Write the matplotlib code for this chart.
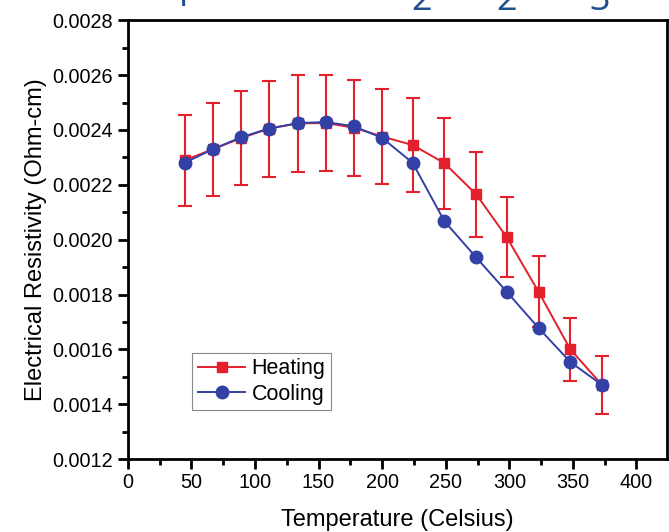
import numpy as np
import matplotlib.pyplot as plt
from matplotlib.ticker import MultipleLocator, FormatStrFormatter

plt.rcParams['font.family'] = ['Liberation Sans', 'DejaVu Sans']

# temperatures (Celsius)
temp = [45, 67, 89, 111, 134, 156, 178, 200, 224, 249, 274, 298, 323, 348, 373]

# resistivity (Ohm-cm)
heating = [0.00229, 0.00233, 0.00237, 0.002405, 0.002424, 0.002425, 0.002408, 0.002376,
           0.002345, 0.002279, 0.002165, 0.002009, 0.00181, 0.0016, 0.00147]
heating_err = [0.000166, 0.00017, 0.000172, 0.000175, 0.000177, 0.000176, 0.000175, 0.000172,
               0.00017, 0.000166, 0.000155, 0.000146, 0.00013, 0.000116, 0.000106]
cooling = [0.002281, 0.00233, 0.002373, 0.002405, 0.002425, 0.002429, 0.002413, 0.002371,
           0.00228, 0.002067, 0.001935, 0.00181, 0.001678, 0.001554, 0.00147]

red = '#e3202b'
blue = '#3341a6'

fig = plt.figure(figsize=(6.69, 5.32), dpi=100)
ax = fig.add_axes([0.191, 0.137, 0.806, 0.825])

ax.errorbar(temp, heating, yerr=heating_err, fmt='none', ecolor=red, elinewidth=1.5,
            capsize=5, capthick=1.5, zorder=2)
ax.plot(temp, heating, color=red, marker='s', markersize=7.5, linewidth=1.4,
        label='Heating', zorder=3)
ax.plot(temp, cooling, color=blue, marker='o', markersize=9, linewidth=1.4,
        label='Cooling', zorder=4)

ax.set_xlim(0, 424)
ax.set_ylim(0.0012, 0.0028)
ax.xaxis.set_major_locator(MultipleLocator(50))
ax.xaxis.set_minor_locator(MultipleLocator(25))
ax.yaxis.set_major_locator(MultipleLocator(0.0002))
ax.yaxis.set_minor_locator(MultipleLocator(0.0001))
ax.yaxis.set_major_formatter(FormatStrFormatter('%.4f'))

for s in ax.spines.values():
    s.set_linewidth(2)
ax.tick_params(which='both', direction='out', width=2, labelsize=14.3, top=False, right=False)
ax.tick_params(which='major', length=7)
ax.tick_params(which='minor', length=4)
ax.tick_params(axis='x', pad=3)

ax.set_xlabel('Temperature (Celsius)', fontsize=17, labelpad=12)
ax.set_ylabel('Electrical Resistivity (Ohm-cm)', fontsize=17, labelpad=4)

leg = ax.legend(loc='lower left', bbox_to_anchor=(0.12, 0.111), fontsize=15.5,
                fancybox=False, framealpha=1, edgecolor='#888888',
                handlelength=2.2, borderpad=0.25, labelspacing=0.22, handletextpad=0.3,
                borderaxespad=0)
leg.get_frame().set_linewidth(0.8)

# fragments of a slide title cut off at the top edge
title_color = '#1f4e8c'
fig.text(190 / 669, 1 + 3 / 532, 'p', color=title_color, fontsize=26,
         ha='center', va='baseline', family='Open Sans')
for xp, ch in [(422, '2'), (507, '2'), (600, '3')]:
    fig.text(xp / 669, 1 - 10 / 532, ch, color=title_color, fontsize=26,
             ha='center', va='baseline', family='Open Sans')

fig.savefig('out.png', dpi=100)
